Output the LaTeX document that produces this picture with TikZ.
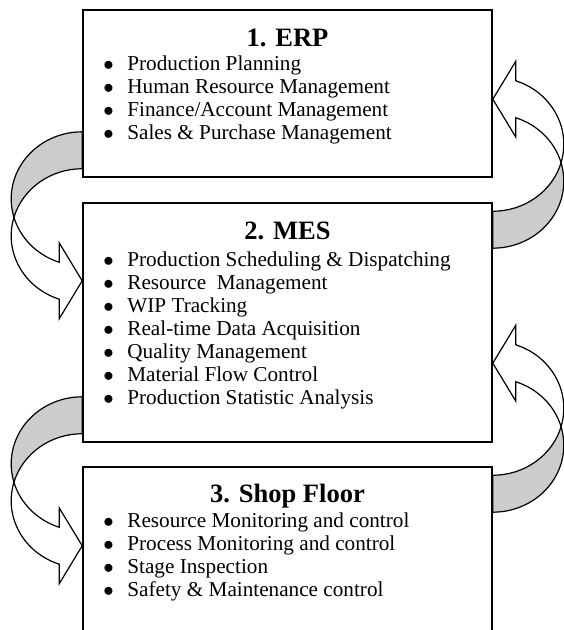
\documentclass[tikz,border=0pt]{standalone}
\usepackage{fontspec}
\setmainfont{Liberation Serif}
\usetikzlibrary{calc}

\begin{document}
\begin{tikzpicture}[x=1pt, y=1pt,
  box/.style={draw, line width=1.6pt, minimum width=409pt, inner sep=0pt},
  heading/.style={font=\fontsize{26.5}{28}\selectfont\bfseries, anchor=base},
  entry/.style={font=\fontsize{21.2}{23}\selectfont, anchor=base west, inner sep=0pt},
  backside/.style={draw, line width=1.2pt, fill=gray!40, line join=round},
  frontside/.style={draw, line width=1.2pt, fill=white, line join=miter}]
\useasboundingbox (0,0) rectangle (564,630);
\clip (0,0) rectangle (564,630);

\node[box, minimum height=167pt] (erp) at (287.5,536.5) {};
\node[box, minimum height=239pt] (mes) at (287.5,307.5) {};
\node[box, minimum height=183pt] (shop) at (287.5,71.5) {};

\foreach \corner/\turn in {erp.south west/0, mes.south west/0, mes.north east/180, shop.north east/180}{
  \begin{scope}[shift={(\corner)}, rotate=\turn]
    \draw[backside] (0,46) arc[start angle=90, end angle=196, x radius=71, y radius=67]
      arc[start angle=164, end angle=90, x radius=71, y radius=67] -- cycle;
    \draw[frontside] (0,-103) -- ++(-23,-38) -- ++(0,19.6)
      arc[start angle=251.1, end angle=164, x radius=71, y radius=67]
      arc[start angle=196, end angle=251.1, x radius=71, y radius=67] -- ++(0,19.4) -- cycle;
  \end{scope}
}

\node[heading] (erp-title) at ($(erp.north)+(0,-37)$) {1. ERP};
\foreach \txt [count=\i] in {Production Planning, Human Resource Management,
    Finance/Account Management, Sales \& Purchase Management}
  \node[entry] (erp-\i) at ($(erp.north west)+(21,-38-23*\i)$) {\makebox[24pt][l]{$\bullet$}\txt};

\node[heading] (mes-title) at ($(mes.north)+(0,-37)$) {2. MES};
\foreach \txt [count=\i] in {Production Scheduling \& Dispatching, Resource\ \ Management,
    WIP Tracking, Real-time Data Acquisition, Quality Management,
    Material Flow Control, Production Statistic Analysis}
  \node[entry] (mes-\i) at ($(mes.north west)+(21,-41-23*\i)$) {\makebox[24pt][l]{$\bullet$}\txt};

\node[heading] (shop-title) at ($(shop.north)+(0,-36)$) {3. Shop Floor};
\foreach \txt [count=\i] in {Resource Monitoring and control, Process Monitoring and control,
    Stage Inspection, Safety \& Maintenance control}
  \node[entry] (shop-\i) at ($(shop.north west)+(21,-38-23*\i)$) {\makebox[24pt][l]{$\bullet$}\txt};
\end{tikzpicture}
\end{document}
